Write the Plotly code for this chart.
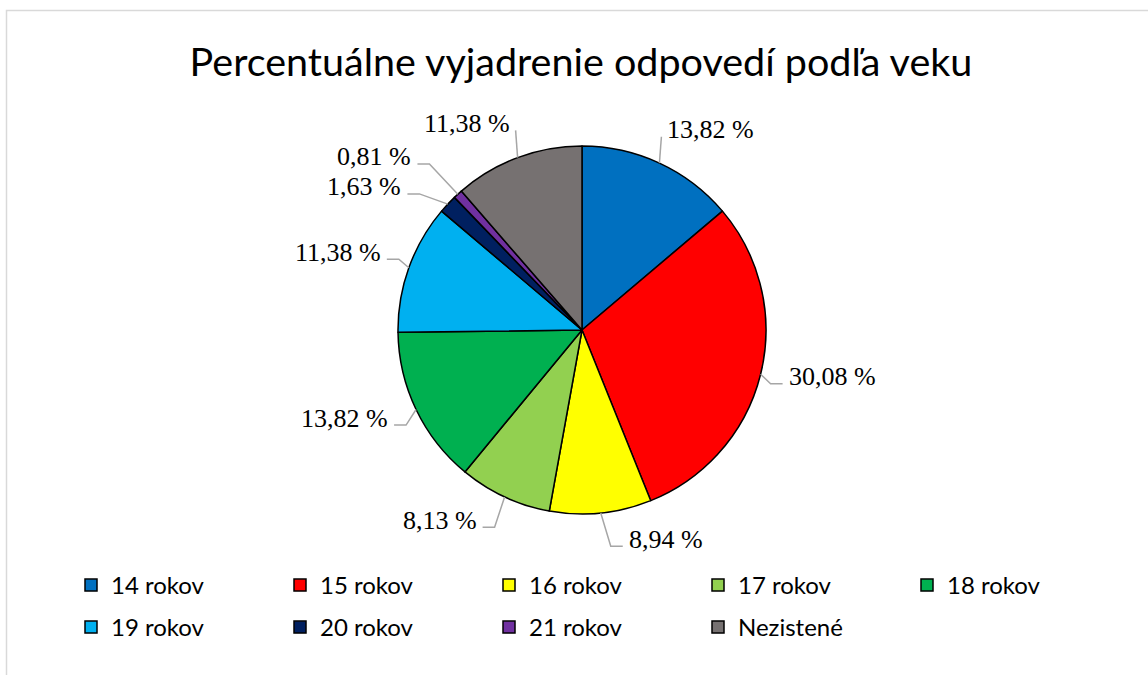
import math
import plotly.graph_objects as go

# ---- data ----
categories = ["14 rokov", "15 rokov", "16 rokov", "17 rokov", "18 rokov",
              "19 rokov", "20 rokov", "21 rokov", "Nezistené"]
percentages = [13.82, 30.08, 8.94, 8.13, 13.82, 11.38, 1.63, 0.81, 11.38]
colors = ["#0070C0", "#FF0000", "#FFFF00", "#92D050", "#00B050",
          "#00B0F0", "#002060", "#7030A0", "#767171"]
title_text = "Percentuálne vyjadrenie odpovedí podľa veku"

# ---- layout constants (pixels, in window coordinates) ----
W, H = 1148, 675
OX, OY = 0, 0            # page margin removed below via post_script
CX, CY, R = 582, 330, 184
LABEL_K = 1.17
LABEL_DY = -5
LABEL_GAP = 30
SANS = "Lato"
SERIF = "Liberation Serif"
LEGEND_PER_ROW = 5


def px_x(x):
    return (x - OX) / W


def px_y(y):
    return 1 - (y - OY) / H


fig = go.Figure(go.Pie(
    labels=categories,
    values=percentages,
    marker=dict(colors=colors, line=dict(color="black", width=1.5)),
    sort=False,
    direction="clockwise",
    rotation=0,
    textinfo="none",
    hoverinfo="label+percent",
    showlegend=False,
    domain=dict(x=[px_x(CX - R), px_x(CX + R)], y=[px_y(CY + R), px_y(CY - R)]),
))

# legend entries (two rows, as in the reference)
for i, (cat, col) in enumerate(zip(categories, colors)):
    fig.add_trace(go.Scatter(
        x=[None], y=[None], mode="markers", name=cat,
        marker=dict(symbol="square", size=12, color=col,
                    line=dict(color="black", width=1.5)),
        legend="legend" if i < LEGEND_PER_ROW else "legend2",
        hoverinfo="skip",
    ))

# ---- data labels with leader lines, derived from the slice angles ----
total = sum(percentages)
cum = 0.0
items = []
for v in percentages:
    mid = (cum + v / 2) / total
    cum += v
    th = 2 * math.pi * mid
    s, c = math.sin(th), math.cos(th)
    side = 1 if s >= 0 else -1
    ex, ey = CX + R * s, CY - R * c
    ty = CY - LABEL_K * R * c
    items.append(dict(v=v, side=side, ex=ex, ey=ey, ty=ty, ty0=ty, c=c))

# simple vertical collision avoidance per side
for side in (1, -1):
    grp = sorted([it for it in items if it["side"] == side], key=lambda d: d["ty"])
    for _ in range(50):
        moved = False
        for a, b in zip(grp, grp[1:]):
            d = b["ty"] - a["ty"]
            if d < LABEL_GAP - 1e-6:
                shift = (LABEL_GAP - d) / 2
                a["ty"] -= shift
                b["ty"] += shift
                moved = True
        if not moved:
            break

for it in items:
    side = it["side"]
    top = it["c"] > 0.85
    push = abs(it["ty"] - it["ty0"])
    off = 6 if top else 26 + 2 * push
    tx = it["ex"] + side * off
    ty = it["ty"] + LABEL_DY
    label = f"{it['v']:.2f}".replace(".", ",") + " %"
    fig.add_annotation(
        x=px_x(tx), y=px_y(ty), xref="paper", yref="paper",
        text=label, showarrow=False,
        xanchor="left" if side > 0 else "right", yanchor="middle",
        font=dict(family=SERIF, size=26, color="black"),
    )
    ly = ty + 7
    if top:
        elbow = it["ex"] + side * 2
        end = elbow
    else:
        elbow = tx - side * 16
        end = tx - side * 4
    path = (f"M {px_x(it['ex'])},{px_y(it['ey'])} "
            f"L {px_x(elbow)},{px_y(ly)} "
            f"L {px_x(end)},{px_y(ly)}")
    fig.add_shape(type="path", path=path, xref="paper", yref="paper",
                  line=dict(color="#A6A6A6", width=1.5))

# chart-area border
fig.add_shape(type="rect", xref="paper", yref="paper",
              x0=px_x(6.5), x1=1.05, y0=-0.05, y1=px_y(10.5),
              line=dict(color="#D9D9D9", width=1.5), fillcolor="rgba(0,0,0,0)")

legend_common = dict(orientation="h", xanchor="left", yanchor="top",
                     entrywidth=164, traceorder="normal",
                     bgcolor="rgba(0,0,0,0)",
                     font=dict(family=SANS, size=24, color="black"))

fig.update_layout(
    width=W, height=H,
    margin=dict(l=0, r=0, t=0, b=0),
    paper_bgcolor="white",
    plot_bgcolor="white",
    xaxis=dict(visible=False),
    yaxis=dict(visible=False),
    title=dict(text=title_text, x=px_x(581), xanchor="center", y=px_y(62), yanchor="middle",
               font=dict(family=SANS, size=39.5, color="black")),
    showlegend=True,
    legend=dict(x=px_x(71), y=px_y(563), **legend_common),
    legend2=dict(x=px_x(71), y=px_y(605), **legend_common),
)

fig.write_html("out.html",
               config={"displayModeBar": False},
               post_script="document.body.style.margin='0';document.body.style.overflow='hidden';")
